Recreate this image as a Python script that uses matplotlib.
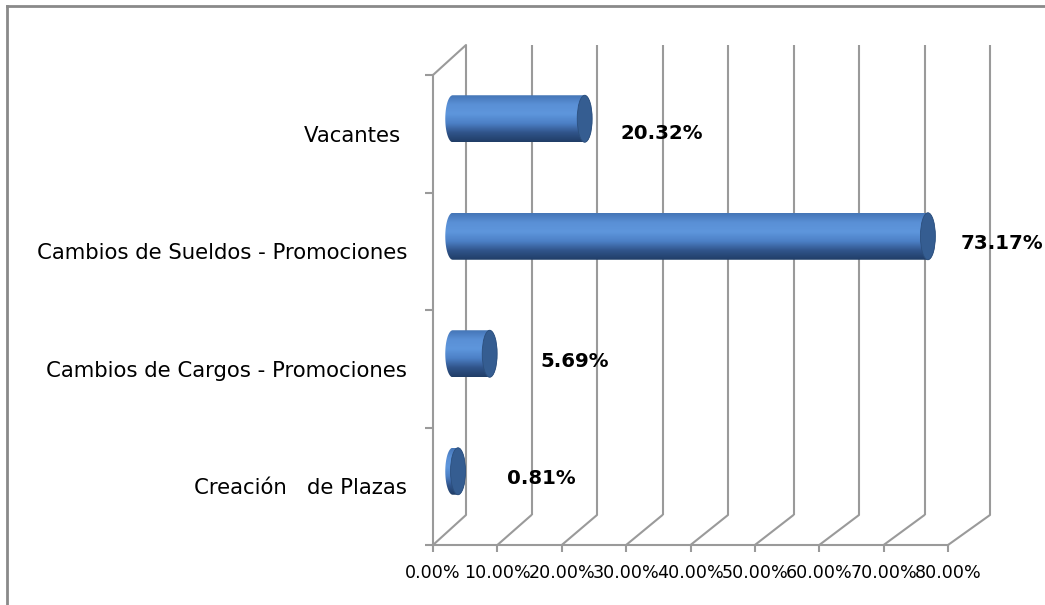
import numpy as np
import matplotlib.pyplot as plt
from matplotlib.patches import Ellipse, PathPatch, ConnectionPatch
from matplotlib.path import Path
from matplotlib.lines import Line2D
from matplotlib.colors import LinearSegmentedColormap

# datos (de abajo hacia arriba)
categorias = ['Creación   de Plazas', 'Cambios de Cargos - Promociones',
              'Cambios de Sueldos - Promociones', 'Vacantes ']
porcentajes = [0.81, 5.69, 73.17, 20.32]
etiquetas = ['0.81%', '5.69%', '73.17%', '20.32%']
ticks_x = [0, 10, 20, 30, 40, 50, 60, 70, 80]
ticks_txt = ['0.00%', '10.00%', '20.00%', '30.00%', '40.00%',
             '50.00%', '60.00%', '70.00%', '80.00%']

# desplazamiento de las etiquetas de datos (pixeles), como en el original
desp_x = [42, 43, 25, 28]
desp_y = [-7, -8, -7, -15]

W, H = 1045, 605
gris = '#9a9a9a'

fig = plt.figure(figsize=(W / 100, H / 100), dpi=100)


def caja(x0, x1, y0, y1):
    # caja en pixeles -> coordenadas de figura
    return [x0 / W, 1 - y1 / H, (x1 - x0) / W, (y1 - y0) / H]


ax_b = fig.add_axes(caja(466, 990, 45, 515))     # pared del fondo
ax_f = fig.add_axes(caja(433, 948, 75, 545))     # plano frontal (ejes)
# plano medio (cilindros): un poco mas ancho a la izquierda (-2 %)
esc = (969 - 449.5) / 80
ax_m = fig.add_axes(caja(449.5 - 2 * esc, 969, 60, 530))

for a in (ax_b, ax_f, ax_m):
    a.set_xlim(0, 80)
    a.set_ylim(-0.5, 3.5)
    a.patch.set_alpha(0)

ax_b.axis('off')
ax_m.axis('off')

# rejilla de la pared del fondo
ax_b.vlines(ticks_x, -0.5, 3.5, color=gris, lw=1.5, clip_on=False)

# ejes frontales
for s in ('top', 'right'):
    ax_f.spines[s].set_visible(False)
for s in ('left', 'bottom'):
    ax_f.spines[s].set_color(gris)
    ax_f.spines[s].set_linewidth(1.5)
ax_f.set_xticks(ticks_x)
ax_f.set_xticklabels(ticks_txt, fontsize=12.6)
ax_f.set_yticks([-0.5, 0.5, 1.5, 2.5, 3.5])
ax_f.set_yticklabels([])
ax_f.set_yticks(range(len(categorias)), minor=True)
ax_f.set_yticklabels(categorias, minor=True, fontsize=15.3)
ax_f.tick_params(axis='x', length=5, width=1.5, color=gris, pad=9)
ax_f.tick_params(axis='y', which='major', length=6, width=1.5, color=gris)
ax_f.tick_params(axis='y', which='minor', length=0, pad=18.5)

# lineas de profundidad (piso y pared izquierda)
for x in ticks_x:
    fig.add_artist(ConnectionPatch(xyA=(x, -0.5), coordsA=ax_f.transData,
                                   xyB=(x, -0.5), coordsB=ax_b.transData,
                                   color=gris, lw=1.5))
fig.add_artist(ConnectionPatch(xyA=(0, 3.5), coordsA=ax_f.transData,
                               xyB=(0, 3.5), coordsB=ax_b.transData,
                               color=gris, lw=1.5))

# cilindros
cmap = LinearSegmentedColormap.from_list(
    'cil', ['#4475b6', '#5a90d6', '#5e96dc', '#4c80c6', '#30548a', '#203d66'])
grad = np.linspace(0, 1, 256).reshape(-1, 1)
ew = 1.15   # medio ancho de la elipse (en %)
hh = 0.2    # medio alto del cilindro
for i, v in enumerate(porcentajes):
    x0, x1 = 0.5, v + 0.5
    t1 = np.linspace(np.pi / 2, 3 * np.pi / 2, 60)
    t2 = np.linspace(-np.pi / 2, np.pi / 2, 60)
    izq = np.column_stack([x0 + ew * np.cos(t1), i + hh * np.sin(t1)])
    der = np.column_stack([x1 + ew * np.cos(t2), i + hh * np.sin(t2)])
    verts = np.vstack([izq, der, izq[:1]])
    silueta = PathPatch(Path(verts, closed=True), facecolor='none',
                        edgecolor='none', transform=ax_m.transData)
    ax_m.add_patch(silueta)
    im = ax_m.imshow(grad, cmap=cmap, origin='upper', aspect='auto',
                     extent=(x0 - ew, x1 + ew, i - hh, i + hh),
                     interpolation='bilinear')
    im.set_clip_path(silueta)
    ax_m.add_patch(Ellipse((x1, i), 2 * ew, 2 * hh, facecolor='#355d91',
                           edgecolor='#2c4f7d', lw=0.6))
    ax_m.annotate(etiquetas[i], xy=(x1 + ew, i),
                  xytext=(desp_x[i], desp_y[i]),
                  textcoords='offset pixels', ha='left', va='center',
                  fontsize=14.2, fontweight='bold', color='black')

ax_m.set_xlim(-2, 80)
ax_m.set_ylim(-0.5, 3.5)

# marco del grafico
fig.add_artist(Line2D([7 / W, 1], [1 - 6 / H, 1 - 6 / H], color='#8a8a8a',
                      lw=2, transform=fig.transFigure))
fig.add_artist(Line2D([7 / W, 7 / W], [0, 1 - 6 / H], color='#8a8a8a',
                      lw=2, transform=fig.transFigure))

fig.savefig('out.png', dpi=100)
